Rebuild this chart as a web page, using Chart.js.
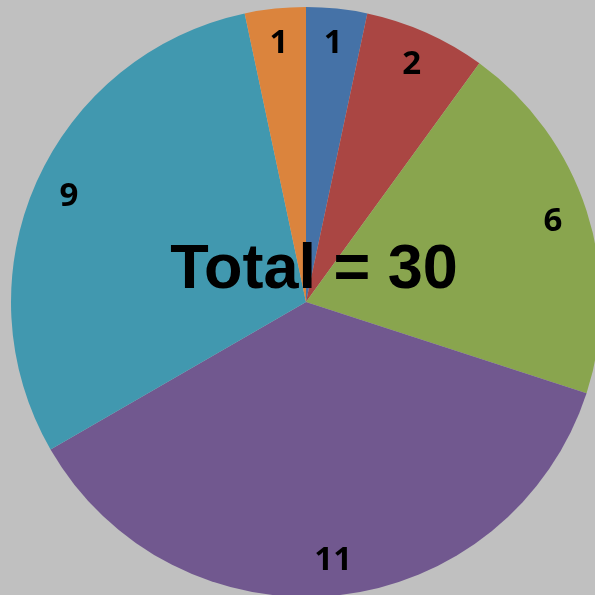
<!DOCTYPE html>
<html>
<head>
<meta charset="utf-8">
<script src="https://cdn.jsdelivr.net/npm/chart.js@4/dist/chart.umd.min.js"></script>
<style>
html,body{margin:0;padding:0;background:#C0C0C0;overflow:hidden;width:595px;height:595px;}
#wrap{position:absolute;left:0;top:0;width:610px;height:610px;}
</style>
</head>
<body>
<div id="wrap"><canvas id="c" width="610" height="610"></canvas></div>
<script>
const categories = ['A', 'B', 'C', 'D', 'E', 'F'];
const values = [1, 2, 6, 11, 9, 1];
const colors = ['#4572A7', '#AA4643', '#89A54E', '#71588F', '#4198AF', '#DB843D'];
const centerText = 'Total = 30';

const labelPlugin = {
  id: 'labels',
  afterDatasetsDraw(chart) {
    const ctx = chart.ctx;
    const meta = chart.getDatasetMeta(0);
    ctx.save();
    ctx.fillStyle = '#000';
    ctx.textAlign = 'center';
    ctx.textBaseline = 'middle';
    ctx.font = 'bold 33px "Open Sans", Lato, sans-serif';
    meta.data.forEach((arc, i) => {
      const p = arc.getProps(['x','y','startAngle','endAngle','outerRadius'], true);
      const mid = (p.startAngle + p.endAngle) / 2;
      const r = p.outerRadius * 0.88;
      ctx.fillText(String(values[i]), p.x + Math.cos(mid) * r, p.y + Math.sin(mid) * r);
    });
    ctx.font = 'bold 63px "Liberation Sans", Arial, sans-serif';
    const a = meta.data[0];
    ctx.fillText(centerText, a.x + 8, a.y - 31);
    ctx.restore();
  }
};

new Chart(document.getElementById('c'), {
  type: 'pie',
  data: {
    labels: categories,
    datasets: [{ data: values, backgroundColor: colors, borderWidth: 0 }]
  },
  options: {
    responsive: false,
    animation: false,
    layout: { padding: { left: 11, top: 7, right: 9, bottom: 13 } },
    plugins: { legend: { display: false }, tooltip: { enabled: false } }
  },
  plugins: [labelPlugin]
});
</script>
</body>
</html>
